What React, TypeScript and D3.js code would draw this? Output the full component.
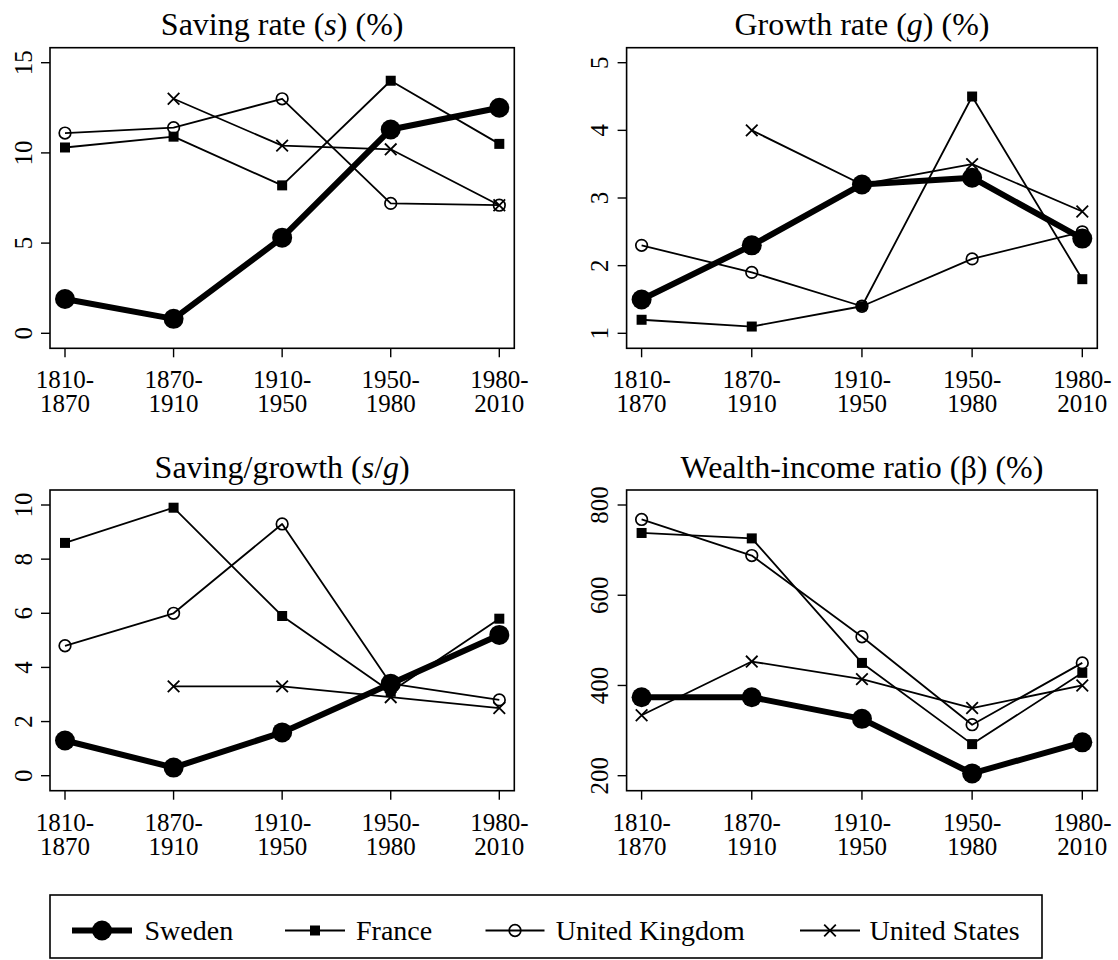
import React from "react";
import * as d3 from "d3";

// Period labels (two-line tick labels)
const periodStart = ["1810-", "1870-", "1910-", "1950-", "1980-"];
const periodEnd = ["1870", "1910", "1950", "1980", "2010"];
const periods = periodStart.map((s, i) => s + periodEnd[i]);

const countries = ["Sweden", "France", "United Kingdom", "United States"];

// Saving rate (s), %
const savingSweden = [1.9, 0.8, 5.3, 11.3, 12.5];
const savingFrance = [10.3, 10.9, 8.2, 14.0, 10.5];
const savingUK = [11.1, 11.4, 13.0, 7.2, 7.1];
const savingUS = [null, 13.0, 10.4, 10.2, 7.1];

// Growth rate (g), %
const growthSweden = [1.5, 2.3, 3.2, 3.3, 2.4];
const growthFrance = [1.2, 1.1, 1.4, 4.5, 1.8];
const growthUK = [2.3, 1.9, 1.4, 2.1, 2.5];
const growthUS = [null, 4.0, 3.2, 3.5, 2.8];

// Saving / growth (s/g)
const ratioSweden = [1.3, 0.3, 1.6, 3.4, 5.2];
const ratioFrance = [8.6, 9.9, 5.9, 3.1, 5.8];
const ratioUK = [4.8, 6.0, 9.3, 3.4, 2.8];
const ratioUS = [null, 3.3, 3.3, 2.9, 2.5];

// Wealth-income ratio (beta), %
const wealthSweden = [374, 374, 326, 205, 274];
const wealthFrance = [738, 726, 450, 270, 428];
const wealthUK = [768, 688, 508, 313, 450];
const wealthUS = [334, 453, 414, 350, 400];

// Y-axis tick values
const savingTicks = [0, 5, 10, 15];
const growthTicks = [1, 2, 3, 4, 5];
const ratioTicks = [0, 2, 4, 6, 8, 10];
const wealthTicks = [200, 400, 600, 800];

const FONT = "Liberation Serif";

type Panel = {
  title: React.ReactNode;
  series: (number | null)[][];
  ticks: number[];
  box: { left: number; right: number; top: number; bottom: number };
};

const panels: Panel[] = [
  {
    title: (
      <>
        Saving rate (<tspan fontStyle="italic">s</tspan>) (%)
      </>
    ),
    series: [savingSweden, savingFrance, savingUK, savingUS],
    ticks: savingTicks,
    box: { left: 50, right: 514.3, top: 47.7, bottom: 348.3 },
  },
  {
    title: (
      <>
        Growth rate (<tspan fontStyle="italic">g</tspan>) (%)
      </>
    ),
    series: [growthSweden, growthFrance, growthUK, growthUS],
    ticks: growthTicks,
    box: { left: 626.6, right: 1097.3, top: 47.7, bottom: 348.3 },
  },
  {
    title: (
      <>
        Saving/growth (<tspan fontStyle="italic">s</tspan>/<tspan fontStyle="italic">g</tspan>)
      </>
    ),
    series: [ratioSweden, ratioFrance, ratioUK, ratioUS],
    ticks: ratioTicks,
    box: { left: 50, right: 514.3, top: 490, bottom: 790.7 },
  },
  {
    title: <>Wealth-income ratio (β) (%)</>,
    series: [wealthSweden, wealthFrance, wealthUK, wealthUS],
    ticks: wealthTicks,
    box: { left: 626.6, right: 1097.3, top: 490, bottom: 790.7 },
  },
];

const PAD = 15;
const TICK = 9;

function Marker({ kind, x, y }: { kind: number; x: number; y: number }) {
  if (kind === 0) return <circle cx={x} cy={y} r={10} fill="#000" />;
  if (kind === 1)
    return <rect x={x - 5} y={y - 5} width={10} height={10} fill="#000" />;
  if (kind === 2)
    return <circle cx={x} cy={y} r={5.8} fill="none" stroke="#000" strokeWidth={1.7} />;
  const s = 5.8;
  return (
    <path
      d={`M${x - s},${y - s}L${x + s},${y + s}M${x - s},${y + s}L${x + s},${y - s}`}
      stroke="#000"
      strokeWidth={1.8}
    />
  );
}

function ChartPanel({ p }: { p: Panel }) {
  const { left, right, top, bottom } = p.box;
  const x = d3.scalePoint<string>().domain(periods).range([left + PAD, right - PAD]);
  const yMin = d3.min(p.ticks) as number;
  const yMax = d3.max(p.ticks) as number;
  const y = d3.scaleLinear().domain([yMin, yMax]).range([bottom - PAD, top + PAD]);
  const line = d3
    .line<number | null>()
    .defined((d) => d != null)
    .x((_, i) => x(periods[i]) as number)
    .y((d) => y(d as number));
  const cx = (left + right) / 2;
  return (
    <g>
      <text x={cx} y={top - 12.5} textAnchor="middle" fontSize={32} fontFamily={FONT}>
        {p.title}
      </text>
      <rect
        x={left}
        y={top}
        width={right - left}
        height={bottom - top}
        fill="none"
        stroke="#000"
        strokeWidth={1.6}
      />
      {p.ticks.map((t) => (
        <g key={t}>
          <line x1={left - TICK} x2={left} y1={y(t)} y2={y(t)} stroke="#000" strokeWidth={1.4} />
          <text
            transform={`translate(${left - 18.5},${y(t)}) rotate(-90)`}
            textAnchor="middle"
            fontSize={25}
            fontFamily={FONT}
          >
            {t}
          </text>
        </g>
      ))}
      {periods.map((per, i) => (
        <g key={per}>
          <line
            x1={x(per)}
            x2={x(per)}
            y1={bottom}
            y2={bottom + TICK}
            stroke="#000"
            strokeWidth={1.4}
          />
          <text x={x(per)} y={bottom + 40} textAnchor="middle" fontSize={25} fontFamily={FONT}>
            <tspan x={x(per)}>{periodStart[i]}</tspan>
            <tspan x={x(per)} dy={24}>
              {periodEnd[i]}
            </tspan>
          </text>
        </g>
      ))}
      {p.series.map((vals, k) => (
        <g key={k}>
          <path
            d={line(vals) || ""}
            fill="none"
            stroke="#000"
            strokeWidth={k === 0 ? 6 : 1.8}
            strokeLinejoin="round"
          />
          {vals.map((v, i) =>
            v == null ? null : (
              <Marker key={i} kind={k} x={x(periods[i]) as number} y={y(v)} />
            )
          )}
        </g>
      ))}
    </g>
  );
}

// Legend key layout
const legendKeys = [
  { x1: 72, x2: 132, tx: 144.5 },
  { x1: 285, x2: 345, tx: 356 },
  { x1: 485.5, x2: 544.5, tx: 555.7 },
  { x1: 800, x2: 860, tx: 869.6 },
];

function Legend() {
  const top = 895;
  const bottom = 958;
  const base = 940;
  const my = base - 9.5;
  return (
    <g>
      <rect
        x={50}
        y={top}
        width={1042 - 50}
        height={bottom - top}
        fill="none"
        stroke="#000"
        strokeWidth={1.6}
      />
      {countries.map((c, k) => {
        const key = legendKeys[k];
        return (
          <g key={c}>
            <line
              x1={key.x1}
              x2={key.x2}
              y1={my}
              y2={my}
              stroke="#000"
              strokeWidth={k === 0 ? 6 : 1.8}
            />
            <Marker kind={k} x={(key.x1 + key.x2) / 2} y={my} />
            <text x={key.tx} y={base} fontSize={28} fontFamily={FONT}>
              {c}
            </text>
          </g>
        );
      })}
    </g>
  );
}

export default function App() {
  return (
    <svg
      width={1118}
      height={960}
      style={{ position: "absolute", left: 0, top: 0, background: "#fff" }}
    >
      <rect width={1118} height={960} fill="#fff" />
      {panels.map((p, i) => (
        <ChartPanel key={i} p={p} />
      ))}
      <Legend />
    </svg>
  );
}
